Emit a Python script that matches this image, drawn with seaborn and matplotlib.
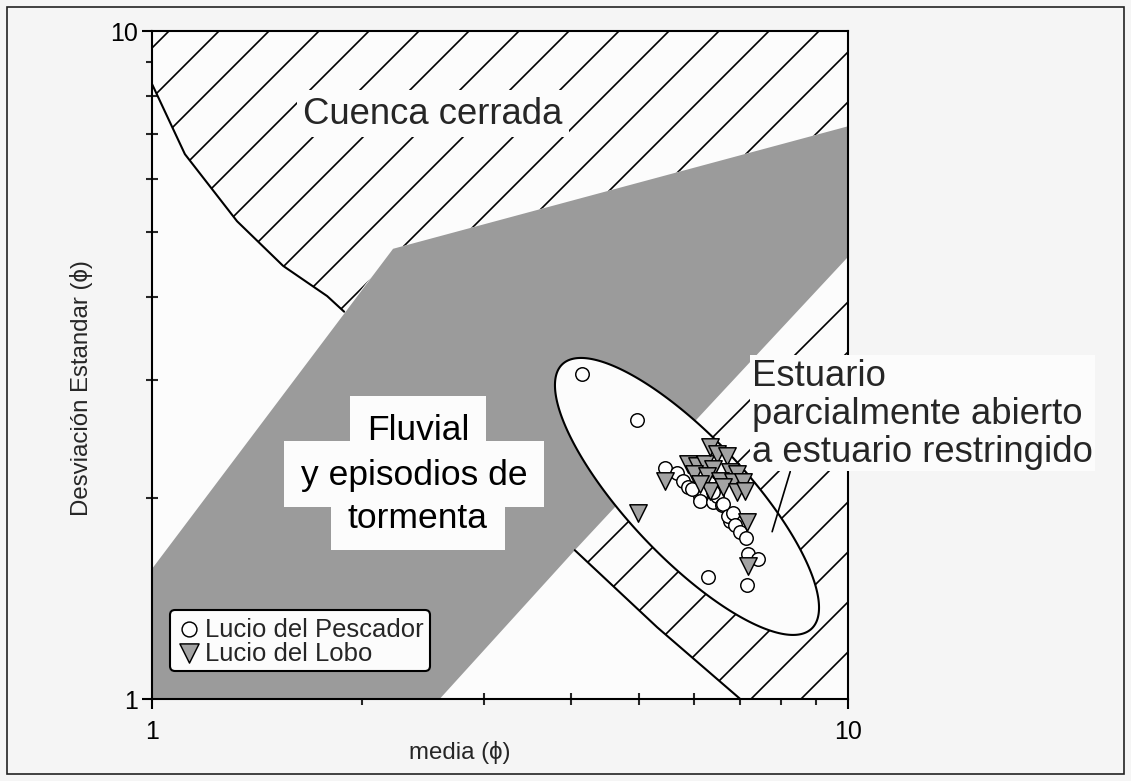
import numpy as np
import pandas as pd
import seaborn as sns
import matplotlib.pyplot as plt
from matplotlib.patches import Rectangle
from matplotlib.ticker import NullFormatter

# datos (media, desviacion estandar en phi)
pescador_media = [4.15, 4.98, 5.46, 5.68, 5.79, 5.88, 6.00, 6.13, 6.27, 6.19, 6.13, 6.40, 6.49,
                  6.59, 6.61, 6.77, 6.72, 6.84, 6.88, 6.99, 7.14, 7.18, 7.42, 6.29, 7.16, 5.96, 6.40]
pescador_desv = [3.07, 2.62, 2.22, 2.18, 2.12, 2.08, 2.06, 2.01, 2.04, 2.05, 1.98, 1.97, 2.01,
                 1.95, 1.96, 1.85, 1.88, 1.90, 1.82, 1.78, 1.74, 1.65, 1.62, 1.52, 1.48, 2.06, 2.04]

lobo_media = [4.99, 5.46, 5.88, 6.07, 6.23, 6.33, 6.49, 6.70, 6.40, 6.77, 6.93, 6.00, 6.27,
              6.55, 6.84, 7.07, 6.33, 6.61, 6.93, 7.11, 6.13, 7.16, 7.18]
lobo_desv = [1.90, 2.12, 2.25, 2.23, 2.25, 2.38, 2.33, 2.31, 2.21, 2.19, 2.17, 2.17, 2.16,
             2.12, 2.11, 2.11, 2.05, 2.08, 2.04, 2.05, 2.10, 1.84, 1.58]

# campos del diagrama
cerrada_sup_x = [1.0, 1.0, 1.115, 1.325, 1.543, 1.785, 1.888, 2.22, 10.0, 10.0]
cerrada_sup_y = [10.0, 8.33, 6.54, 5.19, 4.45, 4.01, 3.80, 4.72, 7.20, 10.0]
curva_x = [1.0, 1.115, 1.325, 1.543, 1.785, 1.888]
curva_y = [8.33, 6.54, 5.19, 4.45, 4.01, 3.80]

cerrada_inf_x = [10.0, 4.05, 5.32, 7.0, 10.0]
cerrada_inf_y = [4.59, 1.67, 1.28, 1.0, 1.0]
limite_inf_x = [4.05, 5.32, 7.0]
limite_inf_y = [1.67, 1.28, 1.0]

fluvial_x = [1.0, 2.22, 10.0, 10.0, 4.05, 2.59, 1.0]
fluvial_y = [1.566, 4.72, 7.20, 4.59, 1.67, 1.0, 1.0]

elipse_centro = (5.87, 2.01)
guia_x = [8.26, 7.78]
guia_y = [2.19, 1.78]

fluvial_lineas = ['Fluvial', 'y episodios de', 'tormenta']
fluvial_lx = [2.41, 2.38, 2.41]
fluvial_ly = [2.45, 2.10, 1.81]

sns.set_theme(style="white")
plt.rcParams['font.family'] = ['Liberation Sans', 'DejaVu Sans']
plt.rcParams['hatch.linewidth'] = 0.8
plt.rcParams['hatch.color'] = 'black'

fig = plt.figure(figsize=(1131 / 150, 782 / 150), dpi=150, facecolor='#f5f5f5')
ax = fig.add_axes([0.1344, 0.1049, 0.6154, 0.8542])
ax.set_facecolor('#fcfcfc')
ax.set_xscale('log')
ax.set_yscale('log')
ax.set_xlim(1, 10)
ax.set_ylim(1, 10)

# zonas rayadas y zona gris
ax.fill(cerrada_sup_x, cerrada_sup_y, facecolor='#fcfcfc', edgecolor='black', hatch='/', linewidth=0, zorder=1)
ax.fill(cerrada_inf_x, cerrada_inf_y, facecolor='#fcfcfc', edgecolor='black', hatch='/', linewidth=0, zorder=1)
ax.fill(fluvial_x, fluvial_y, facecolor='#9b9b9b', edgecolor='none', zorder=2)
ax.plot(curva_x, curva_y, color='black', lw=1.0, zorder=3)
ax.plot(limite_inf_x, limite_inf_y, color='black', lw=1.0, zorder=3)

# elipse del campo estuarino (en espacio logaritmico)
t = np.linspace(0, 2 * np.pi, 300)
u = np.log10(elipse_centro[0]) + 0.179 * np.cos(t) + 0.0628 * np.sin(t)
v = np.log10(elipse_centro[1]) - 0.198 * np.cos(t) + 0.0615 * np.sin(t)
ax.fill(10 ** u, 10 ** v, facecolor='#fcfcfc', edgecolor='black', lw=1.0, zorder=3)

ax.plot(guia_x, guia_y, color='black', lw=0.8, zorder=4)

sns.scatterplot(x=pescador_media, y=pescador_desv, marker='o', s=42, color='white',
                edgecolor='black', linewidth=0.7, label='Lucio del Pescador', ax=ax, zorder=5)
sns.scatterplot(x=lobo_media, y=lobo_desv, marker='v', s=70, color='#a3a3a3',
                edgecolor='black', linewidth=0.7, label='Lucio del Lobo', ax=ax, zorder=5)

ax.text(2.535, 7.28, 'Cuenca cerrada', fontsize=17.5, ha='center', va='baseline',
        bbox=dict(facecolor='#fcfcfc', edgecolor='none', pad=3), zorder=6)

# fondos blancos primero (texto invisible), luego el texto encima
for txt, lx, ly in zip(fluvial_lineas, fluvial_lx, fluvial_ly):
    ax.text(lx, ly, txt, fontsize=17, ha='center', va='baseline', color=(0, 0, 0, 0),
            bbox=dict(facecolor='#fcfcfc', edgecolor='none', pad=8), zorder=6)
for txt, lx, ly in zip(fluvial_lineas, fluvial_lx, fluvial_ly):
    ax.text(lx, ly, txt, fontsize=17, ha='center', va='baseline', color='black', zorder=7)

ax.text(7.28, 2.27, 'Estuario\nparcialmente abierto\na estuario restringido', fontsize=17.5,
        ha='left', va='baseline', linespacing=1.12,
        bbox=dict(facecolor='#fcfcfc', edgecolor='none', pad=1), zorder=6, clip_on=False)

# ejes
ax.set_xticks([1, 10], ['1', '10'])
ax.set_yticks([1, 10], ['1', '10'])
ax.set_xticks(range(2, 10), minor=True)
ax.set_yticks(range(2, 10), minor=True)
ax.xaxis.set_minor_formatter(NullFormatter())
ax.yaxis.set_minor_formatter(NullFormatter())
ax.tick_params(which='major', direction='out', length=4.8, width=1, labelsize=12, colors='black',
               bottom=True, left=True, top=False, right=False)
ax.tick_params(axis='x', which='major', pad=5)
ax.tick_params(axis='y', which='major', pad=2)
ax.tick_params(which='minor', direction='inout', length=6, width=1, bottom=True, left=True,
               top=False, right=False)
for sp in ax.spines.values():
    sp.set_color('black')
    sp.set_linewidth(1.0)

ax.set_xlabel('media (ϕ)', fontsize=11.5)
ax.set_ylabel('Desviación Estandar (ϕ)', fontsize=11.5)
ax.xaxis.set_label_coords(0.4425, -0.062)
ax.yaxis.set_label_coords(-0.085, 0.467)

ax.legend(loc='lower left', bbox_to_anchor=(0.026, 0.042), borderaxespad=0, fontsize=12.3,
          frameon=True, fancybox=True, edgecolor='black', facecolor='#fcfcfc', framealpha=1,
          handletextpad=0.1, handlelength=1.0, borderpad=0.25, labelspacing=0.0, markerscale=1.1)

fig.add_artist(Rectangle((0.0062, 0.009), 0.9876, 0.981, transform=fig.transFigure,
                         fill=False, lw=0.8, edgecolor='#222222'))

plt.savefig('out.png', dpi=150, facecolor=fig.get_facecolor())
